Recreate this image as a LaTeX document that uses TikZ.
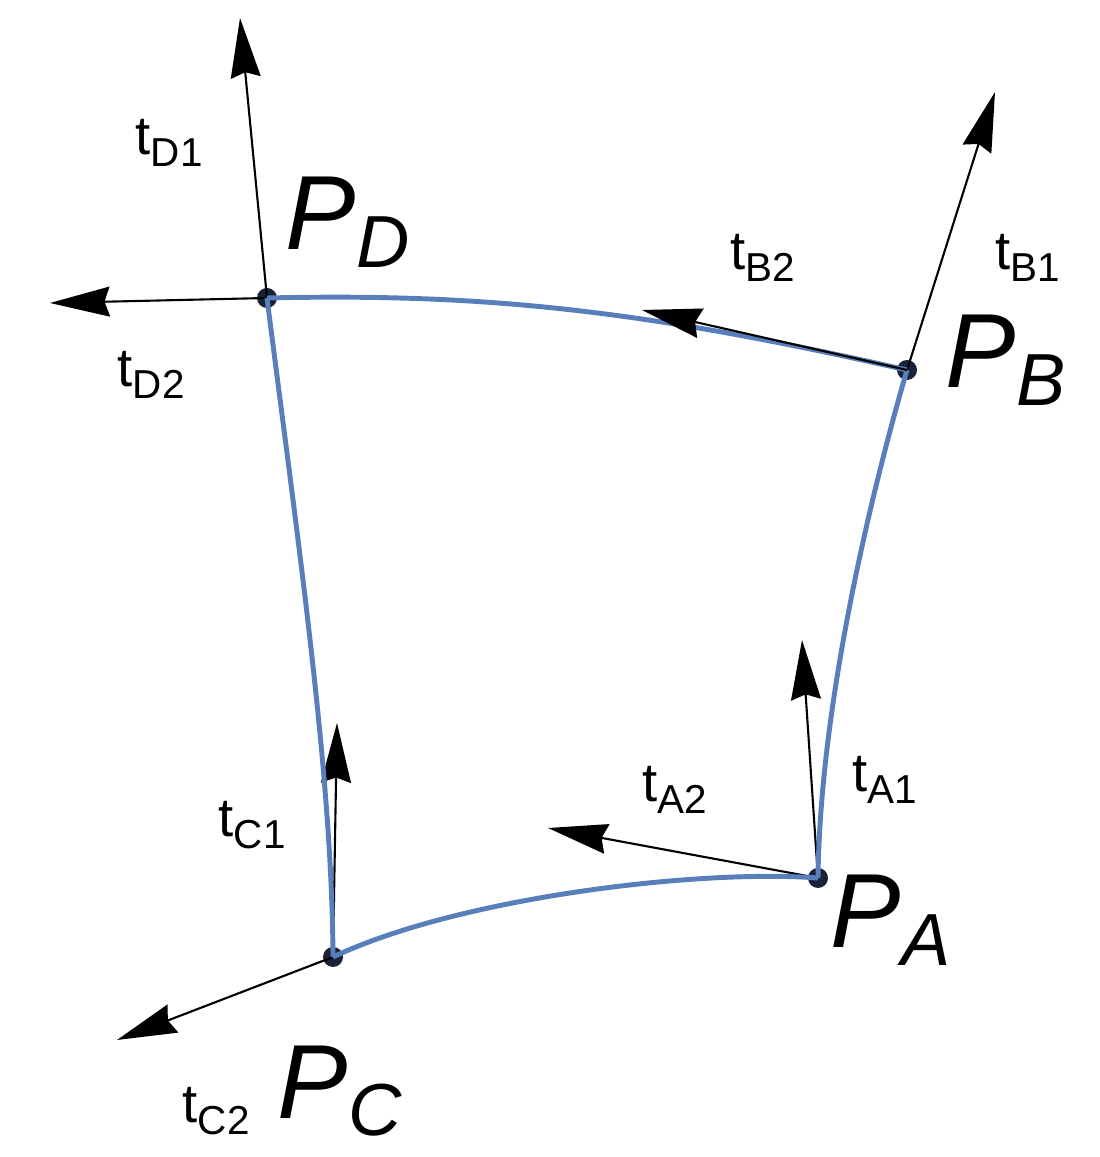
\documentclass[tikz,border=0pt]{standalone}
\usepackage{xcolor}
\usepackage{fontspec}
\setmainfont{Liberation Sans}
\usetikzlibrary{arrows.meta}
\definecolor{curveblue}{RGB}{88,126,188}
\definecolor{dotblack}{RGB}{25,35,55}
\newcommand{\tlab}[1]{{\fontsize{15.5}{15.5}\selectfont t}\raisebox{-3.2pt}{\fontsize{11.5}{11.5}\selectfont #1}}
\newcommand{\plab}[1]{{\fontsize{30}{30}\selectfont\itshape P}\raisebox{-5pt}{\fontsize{21}{21}\selectfont\itshape #1}}

\begin{document}
\begin{tikzpicture}
\useasboundingbox (0,0) rectangle (11,11.57);
\begin{scope}[every node/.style={circle,fill=dotblack,inner sep=0pt,minimum size=2mm}]
    \node (PA) at (8.18,2.79) {};
    \node (PB) at (9.07,7.87) {};
    \node (PC) at (3.33,2.00) {};
    \node (PD) at (2.67,8.59) {};
\end{scope}

% tangent tips
\coordinate (A1) at (8.02,5.17);
\coordinate (A2) at (5.48,3.29);
\coordinate (B1) at (9.95,10.65);
\coordinate (B2) at (6.42,8.47);
\coordinate (C1) at (3.37,4.34);
\coordinate (C2) at (1.17,1.17);
\coordinate (D1) at (2.40,11.39);
\coordinate (D2) at (0.50,8.54);

\begin{scope}[>={Stealth[black,length=17pt,width=8.5pt,inset=1.5pt]},
              every edge/.style={draw=black,line width=0.6pt}]
    \path [->] (PA.center) edge (A1);
    \path [->] (PA.center) edge (A2);
    \path [->] (PB.center) edge (B1);
    \path [->] (PC.center) edge (C1);
    \path [->] (PC.center) edge (C2);
    \path [->] (PD.center) edge (D1);
    \path [->] (PD.center) edge (D2);
\end{scope}

\begin{scope}[curveblue,line width=1.4pt]
    \draw (PD.center) .. controls (4.84,8.64) and (6.42,8.47) .. (PB.center);
    \draw (PA.center) .. controls (8.20,4.5) and (8.7,6.6) .. (PB.center);
    \draw (PA.center) .. controls (7.0,2.88) and (4.6,2.6) .. (PC.center);
    \draw (PC.center) .. controls (3.32,3.8) and (3.0,6.0) .. (PD.center);
\end{scope}

\begin{scope}[>={Stealth[black,length=17pt,width=8.5pt,inset=1.5pt]},
              every edge/.style={draw=black,line width=0.6pt}]
    \path [->] (PB.center) edge (B2);
\end{scope}

\begin{scope}[every node/.style={inner sep=0pt,anchor=base west}]
    \node (lPA) at (8.30,2.09) {\plab{A}};
    \node (lPB) at (9.45,7.69) {\plab{B}};
    \node (lPC) at (2.77,0.39) {\plab{C}};
    \node (lPD) at (2.85,9.07) {\plab{D}};
    \node (lA1) at (8.52,3.65) {\tlab{A1}};
    \node (lA2) at (6.42,3.55) {\tlab{A2}};
    \node (lB1) at (9.95,8.87) {\tlab{B1}};
    \node (lB2) at (7.30,8.87) {\tlab{B2}};
    \node (lC1) at (2.18,3.20) {\tlab{C1}};
    \node (lC2) at (1.82,0.34) {\tlab{C2}};
    \node (lD1) at (1.35,10.02) {\tlab{D1}};
    \node (lD2) at (1.17,7.70) {\tlab{D2}};
\end{scope}
\end{tikzpicture}
\end{document}
